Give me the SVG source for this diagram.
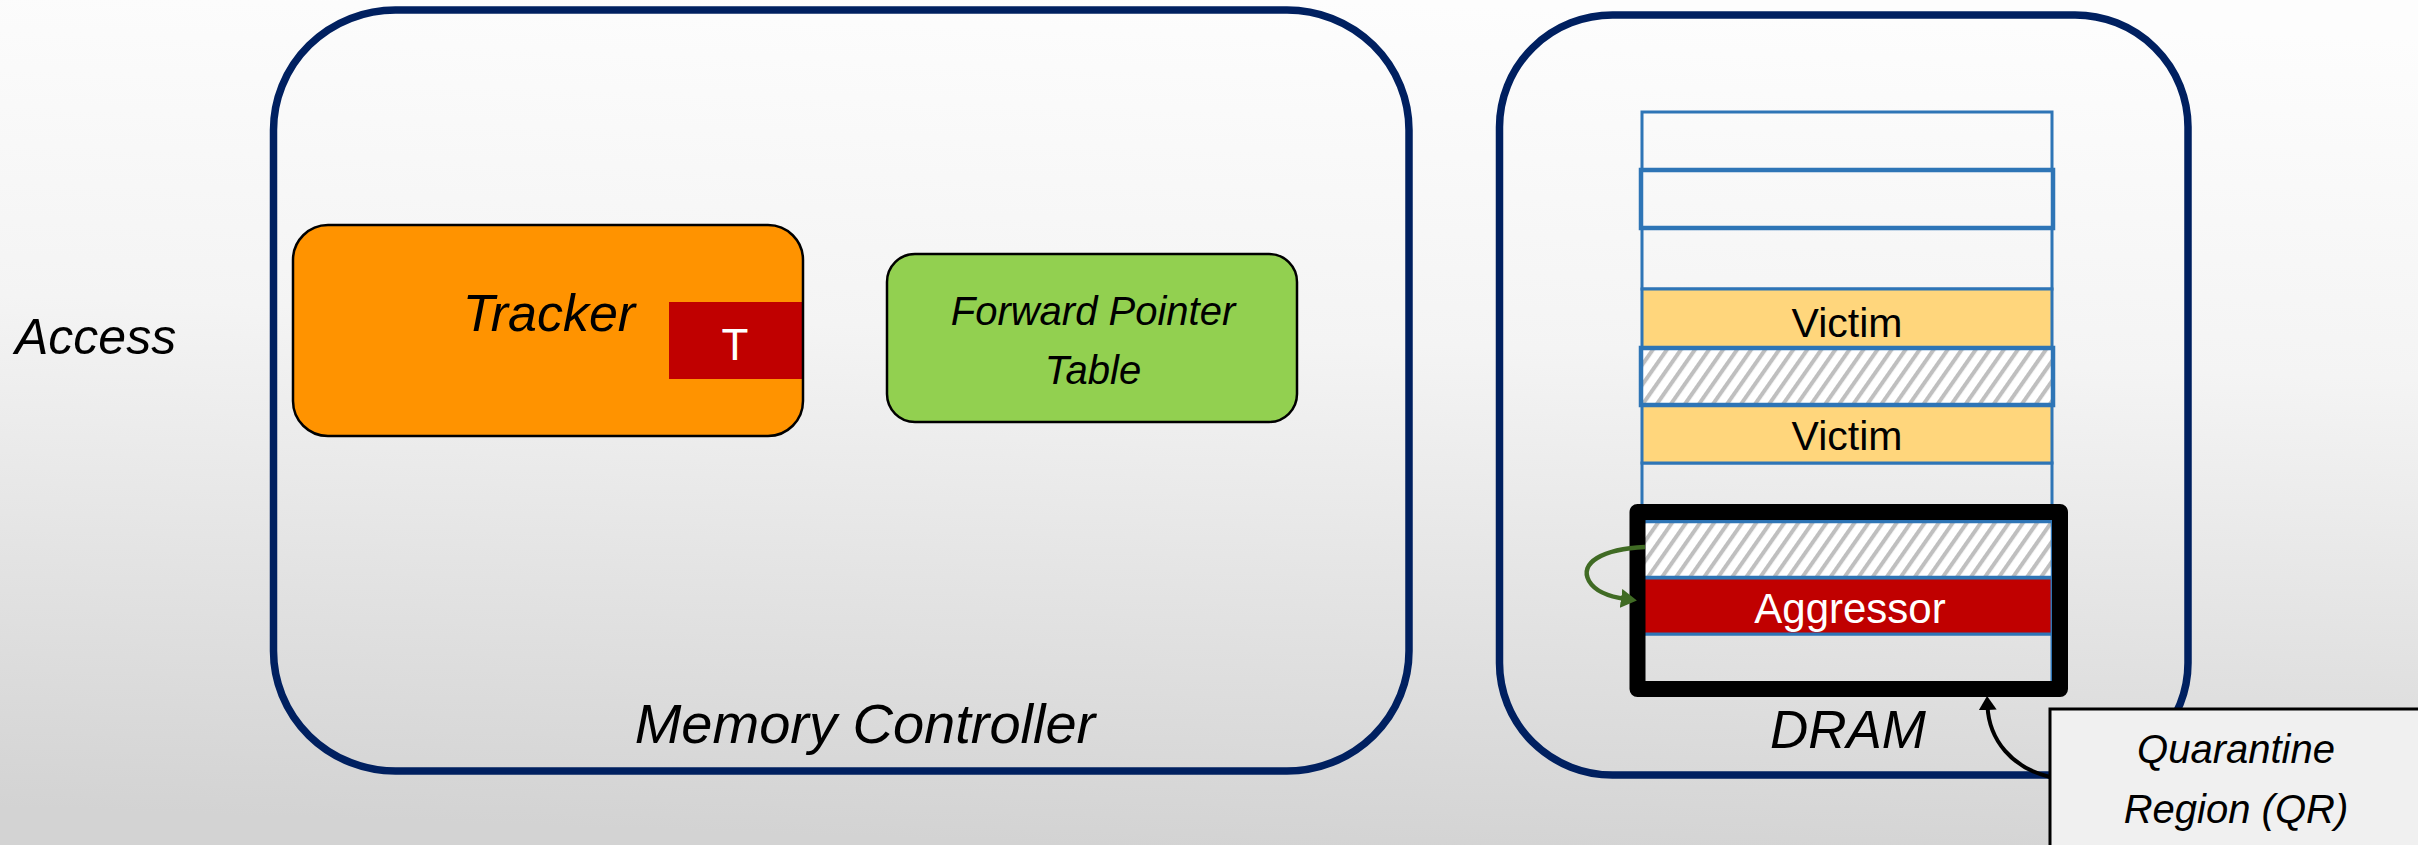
<svg xmlns="http://www.w3.org/2000/svg" width="2418" height="845" viewBox="0 0 2418 845">
  <defs>
    <linearGradient id="bg" x1="0.55" y1="0" x2="0.45" y2="1">
      <stop offset="0" stop-color="#FDFDFD"/>
      <stop offset="0.4" stop-color="#F4F4F4"/>
      <stop offset="1" stop-color="#D3D3D3"/>
    </linearGradient>
    <pattern id="hatch" patternUnits="userSpaceOnUse" width="11.5" height="11.5" patternTransform="rotate(35)">
      <rect width="11.5" height="11.5" fill="#FFFFFF"/>
      <rect width="4" height="11.5" fill="#BFBFBF"/>
    </pattern>
    <marker id="headBlack" markerUnits="userSpaceOnUse" markerWidth="14" markerHeight="18" viewBox="0 0 14 18" refX="4" refY="9" orient="auto">
      <path d="M0,0 L14,9 L0,18 z" fill="#000000"/>
    </marker>
    <marker id="headGreen" markerUnits="userSpaceOnUse" markerWidth="16" markerHeight="19" viewBox="0 0 16 19" refX="5" refY="9.5" orient="auto">
      <path d="M0,0 L16,9.5 L0,19 z" fill="#406B24"/>
    </marker>
  </defs>
  <style>
    .txt { font-family: "Liberation Sans", Arial, sans-serif; fill: #000000; }
    .it { font-style: italic; }
    .container { fill: none; stroke: #002060; stroke-width: 7.5; }
    .row { fill: none; stroke: #2E75B6; stroke-width: 3; }
    .row-bold { stroke-width: 4.5; }
    .victim { fill: #FFD67C; }
    .hatched { fill: url(#hatch); }
  </style>

  <!-- background -->
  <rect x="0" y="0" width="2418" height="845" fill="url(#bg)"/>

  <!-- incoming access label -->
  <g id="access">
    <text class="txt it" x="15" y="354" font-size="50">Access</text>
  </g>

  <!-- memory controller -->
  <g id="memory-controller">
    <rect class="container" x="273.5" y="10" width="1135.5" height="761" rx="122" ry="120"/>
    <text class="txt it" x="865" y="743" font-size="56" text-anchor="middle">Memory Controller</text>
  </g>

  <g id="tracker">
    <rect x="293" y="225" width="510" height="211" rx="35" fill="#FF9300"/>
    <rect x="669" y="302" width="133" height="77" fill="#C00000"/>
    <rect x="293" y="225" width="510" height="211" rx="35" fill="none" stroke="#000000" stroke-width="2.5"/>
    <text class="txt it" x="549" y="331" font-size="52" text-anchor="middle">Tracker</text>
    <text class="txt" x="735" y="360" font-size="44" text-anchor="middle" style="fill:#FFFFFF">T</text>
  </g>

  <g id="forward-pointer-table">
    <rect x="887" y="254" width="410" height="168" rx="28" fill="#92D050" stroke="#000000" stroke-width="2.5"/>
    <text class="txt it" x="1093" y="325" font-size="40" text-anchor="middle">Forward Pointer</text>
    <text class="txt it" x="1093" y="384" font-size="40" text-anchor="middle">Table</text>
  </g>

  <!-- DRAM -->
  <g id="dram">
    <rect class="container" x="1499.5" y="15" width="688.5" height="760" rx="113" ry="112"/>
    <text class="txt it" x="1848" y="748" font-size="53" text-anchor="middle">DRAM</text>
  </g>

  <g id="dram-rows">
    <rect class="row" x="1642" y="112" width="410" height="58"/>
    <rect class="row" x="1642" y="228" width="410" height="61"/>
    <rect class="row" x="1642" y="463" width="410" height="58"/>
    <rect class="row row-bold" x="1641" y="170" width="412" height="58"/>
    <g id="victim-upper">
      <rect class="row victim" x="1642" y="289" width="410" height="59"/>
      <text class="txt" x="1847" y="337" font-size="41" text-anchor="middle">Victim</text>
    </g>
    <g id="victim-lower">
      <rect class="row victim" x="1642" y="405" width="410" height="58"/>
      <text class="txt" x="1847" y="450" font-size="41" text-anchor="middle">Victim</text>
    </g>
    <rect class="row row-bold hatched" x="1641" y="348" width="412" height="57"/>
    <rect class="row" x="1642" y="634" width="410" height="50"/>
    <rect class="row row-bold hatched" x="1641" y="521" width="412" height="57"/>
    <g id="aggressor">
      <rect class="row" x="1642" y="578" width="410" height="56" style="fill:#C00000"/>
      <text class="txt" x="1850" y="623" font-size="42" text-anchor="middle" style="fill:#FFFFFF">Aggressor</text>
    </g>
  </g>

  <!-- quarantine region outline -->
  <g id="quarantine-region">
    <rect x="1637.5" y="512" width="422.5" height="177" fill="none" stroke="#000000" stroke-width="16" stroke-linejoin="round"/>
  </g>

  <g id="quarantine-label">
    <rect x="2050" y="709" width="400" height="160" fill="#F0F0F0" stroke="#000000" stroke-width="3"/>
    <text class="txt it" x="2236" y="763" font-size="40" text-anchor="middle">Quarantine</text>
    <text class="txt it" x="2236" y="823" font-size="40" text-anchor="middle">Region (QR)</text>
  </g>

  <!-- connectors -->
  <g id="connectors" fill="none">
    <path d="M2050,777 C2012,768 1989,740 1987.5,706" stroke="#000000" stroke-width="4" marker-end="url(#headBlack)"/>
    <path d="M1645,547 C1602,549 1579,563 1589,581 C1596,593 1611,597 1626,599" stroke="#406B24" stroke-width="4.5" marker-end="url(#headGreen)"/>
  </g>
</svg>
